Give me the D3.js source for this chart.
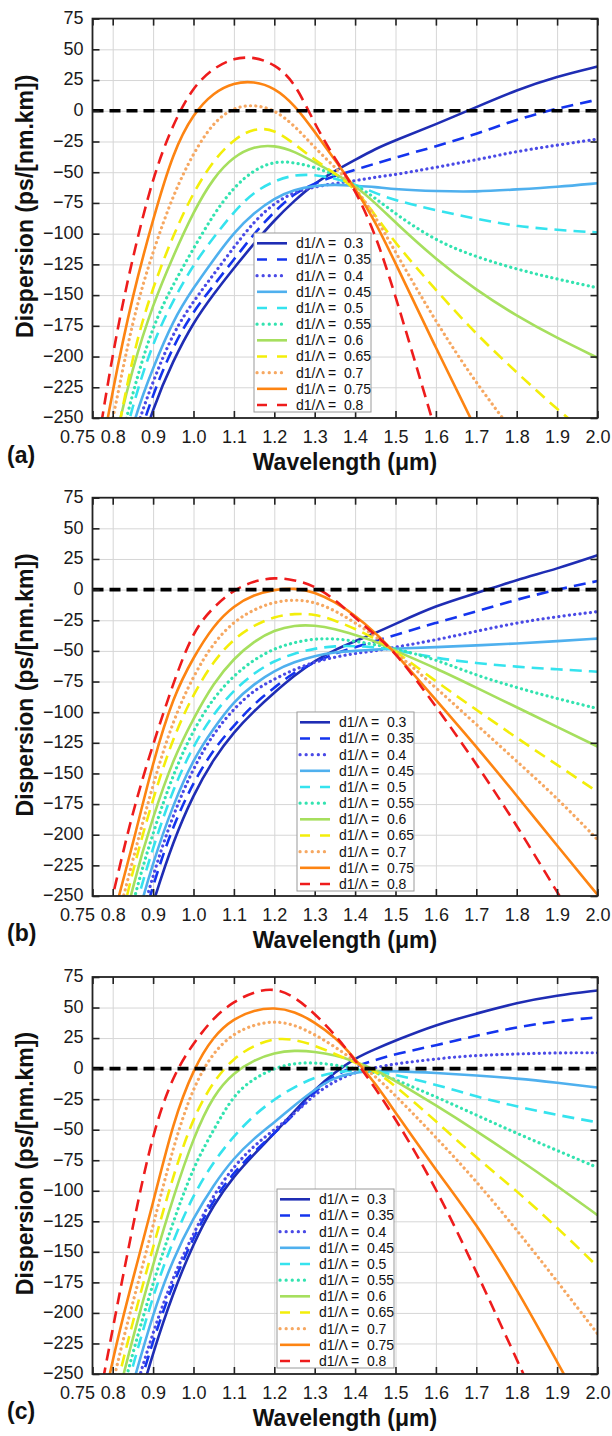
<!DOCTYPE html>
<html>
<head>
<meta charset="utf-8">
<script src="https://cdn.jsdelivr.net/npm/d3@7"></script>
<style>
  body { margin: 0; background: #fff; }
  svg text { font-family: "Liberation Sans", Arial, Helvetica, sans-serif; }
</style>
</head>
<body>
<svg id="chart"></svg>
<script>
const wavelength = [0.75, 0.8, 0.85, 0.9, 0.95, 1.0, 1.05, 1.1, 1.15, 1.2, 1.25, 1.3, 1.35, 1.4, 1.45, 1.5, 1.6, 1.7, 1.8, 1.9, 2.0];
const ratios = ["0.3", "0.35", "0.4", "0.45", "0.5", "0.55", "0.6", "0.65", "0.7", "0.75", "0.8"];
const colors = ["#1f2db4", "#1434ee", "#4a4ae6", "#4fb0ee", "#35e3ee", "#33e3b0", "#a6df5e", "#f3ee0a", "#f6a862", "#fd8412", "#ee1c1c"];
const lineKinds = ["solid", "dashed", "dotted", "solid", "dashed", "dotted", "solid", "dashed", "dotted", "solid", "dashed"];
const xTicks = [0.75, 0.8, 0.9, 1.0, 1.1, 1.2, 1.3, 1.4, 1.5, 1.6, 1.7, 1.8, 1.9, 2.0];
const yTicks = [75, 50, 25, 0, -25, -50, -75, -100, -125, -150, -175, -200, -225, -250];
const panelTags = ["(a)", "(b)", "(c)"];

// dispersion (ps/[nm.km]) at each wavelength, one row per d1/Λ
const dispA = [
  [-480, -370, -295, -241, -203, -172, -149, -128, -108, -89, -73, -59, -49, -40, -31, -24, -11, 3, 17, 28, 36],
  [-460, -355, -280, -230, -191, -163, -142, -121, -100, -82, -67, -59, -53, -48, -43, -38, -29, -19, -7, 2, 9],
  [-440, -340, -265, -220, -180, -155, -133, -111, -90, -75, -66, -62, -59, -57, -54, -52, -46, -40, -33, -28, -23],
  [-420, -325, -252, -209, -170, -144, -121, -99, -83, -71, -64, -61, -60, -61, -62, -64, -65.5, -66, -64, -62, -59],
  [-400, -305, -238, -188, -154, -125, -103, -82, -66, -57, -52, -52, -55, -60, -67, -73, -81, -88, -94, -97, -99],
  [-390, -295, -228, -174, -141, -112, -84, -62, -48, -41, -42, -46, -52, -60, -71, -84, -106, -119, -129, -137, -144],
  [-370, -274, -208, -157, -118, -82, -54, -37, -29, -28, -33, -42, -51, -61, -75, -91, -121, -146, -167, -185, -201],
  [-360, -285, -196, -143, -101, -66, -40, -23, -14, -15, -27, -40, -51, -63, -85, -108, -146, -182, -213, -243, -270],
  [-330, -252, -168, -114, -68, -34, -9, 3, 5, 1, -12, -30, -46, -62, -86, -115, -172, -222, -265, -310, -355],
  [-320, -226, -149, -88, -33, -2, 15, 23, 24, 19, 5, -17, -40, -63, -90, -124, -193, -260, -325, -390, -455],
  [-300, -195, -118, -53, -10, 20, 35, 43, 44, 38, 24, -11, -39, -64, -100, -150, -262, -370, -480, -590, -700]
];
const dispB = [
  [-460, -385, -310, -255, -205, -167, -138, -116, -99, -84, -70, -58, -49, -42, -35.5, -28, -13, -3, 8, 17, 28],
  [-450, -375, -300, -240, -192, -157, -130, -111, -93, -80, -67, -59.5, -52, -47, -42, -37, -27, -18, -8, 0, 7],
  [-440, -365, -292, -232, -183, -145, -117, -97, -82, -73, -65, -59, -55, -52, -50, -47, -41, -34, -27, -22, -18],
  [-420, -350, -280, -222, -175, -138, -113, -91, -77, -66, -59, -54, -51, -50, -49, -48, -47, -45.5, -44, -42, -40],
  [-410, -340, -265, -210, -162, -127, -101, -82, -68, -58, -52, -48, -46, -46, -47, -49, -56, -60, -63, -65, -67],
  [-400, -330, -253, -198, -150, -114, -88, -70, -57, -48, -43, -40, -40, -42, -45, -48, -57, -70, -80, -89, -97],
  [-390, -315, -240, -185, -138, -105, -76, -56, -42, -33, -29, -29, -32, -37, -42, -50, -64, -80, -96, -112, -128],
  [-370, -300, -228, -170, -120, -85, -58, -40, -29, -22, -19.5, -20, -25, -32, -40, -50, -75, -98, -121, -143, -165],
  [-350, -285, -220, -158, -106, -70, -43, -26, -16, -10, -8, -10, -17, -27, -38, -51, -80, -110, -140, -170, -204],
  [-340, -268, -208, -140, -87, -55, -29, -13, -4, 0, 1.4, -2, -10, -21, -35, -52, -90, -128, -168, -209, -249],
  [-320, -250, -180, -126, -76, -33, -14, 0, 7, 10, 8, 3, -8, -23, -37, -51, -95, -142, -192, -247, -300]
];
const dispC = [
  [-420, -345, -290, -232, -183, -143, -111, -88, -70, -53, -35, -17, -3, 8.5, 16, 23, 36, 45, 54, 60, 64],
  [-410, -335, -278, -222, -175, -138, -107, -85, -68, -53, -37, -19, -5, 2, 7, 12, 19, 27, 34, 39, 42],
  [-400, -325, -270, -215, -170, -135, -103, -80, -63, -50, -37, -21, -10, -3, 1, 4, 8, 11, 12, 13, 13],
  [-390, -318, -258, -200, -155, -122, -95, -73, -57, -44, -30, -17, -7, -3, -2, -2, -3.5, -5.5, -8, -11.5, -15.5],
  [-380, -305, -243, -185, -140, -103, -76, -55, -38, -25, -15, -7, -3, -1, -2, -5, -13, -23, -31, -38, -44],
  [-370, -295, -232, -175, -125, -80, -50, -21, -8, 0.5, 4.5, 5, 3, 0, -3, -9, -23, -38, -53, -67, -81],
  [-360, -285, -220, -160, -105, -56, -21, -3, 7, 13, 15, 14, 11, 6, -1, -10, -30, -51, -73, -96, -120],
  [-350, -272, -207, -146, -87, -39, -10, 9, 19, 25, 24, 19, 12, 5, -2, -14, -43, -73, -100, -130, -162],
  [-340, -255, -191, -129, -63, -14, 14, 29, 36, 39, 36, 28, 18, 6, -6, -22, -56, -92, -132, -174, -217],
  [-320, -236, -172, -110, -43, 0, 27, 41, 48, 50, 47, 38, 26, 8, -12, -36, -83, -127, -180, -240, -300],
  [-300, -213, -128, -51, -5, 21, 42, 55, 63, 66, 59, 45, 28, 7, -16, -41, -97, -166, -238, -310, -380]
];

const size = { width: 612, height: 1436 };
const margin = { left: 92.5, right: 14.5 };
const frames = [
  { data: dispA, top: 18.6, bottom: 418, legend: { x: 254, y: 233 } },
  { data: dispB, top: 497.7, bottom: 896, legend: { x: 297, y: 712 } },
  { data: dispC, top: 977, bottom: 1374, legend: { x: 277, y: 1189 } }
];

const svg = d3
  .select("#chart")
  .attr("width", size.width)
  .attr("height", size.height);

const x = d3
  .scaleLinear()
  .domain([0.75, 2.0])
  .range([margin.left, size.width - margin.right]);

const lineStyle = (sel, kind, inLegend) => {
  sel.attr("stroke-width", 2.6).attr("fill", "none");
  if (kind === "dashed") {
    sel.attr("stroke-dasharray", inLegend ? "10,10" : "12,7");
  } else if (kind === "dotted") {
    sel
      .attr("stroke-dasharray", inLegend ? "0.1,6" : "0.1,5.2")
      .attr("stroke-linecap", "round")
      .attr("stroke-width", 3.2);
  }
};

frames.forEach((f, p) => {
  const y = d3.scaleLinear().domain([-250, 75]).range([f.bottom, f.top]);
  const g = svg.append("g");
  const h = f.bottom - f.top;
  const w = size.width - margin.right - margin.left;

  // grid
  g.append("g")
    .attr("transform", `translate(0, ${f.bottom})`)
    .call(d3.axisBottom(x).tickValues(xTicks.slice(1)).tickSize(-h).tickFormat(""))
    .call((s) => s.select(".domain").remove())
    .call((s) => s.selectAll("line").attr("stroke", "#d6d6d6").attr("stroke-width", 1));
  g.append("g")
    .attr("transform", `translate(${margin.left}, 0)`)
    .call(d3.axisLeft(y).tickValues(yTicks.slice(1, -1)).tickSize(-w).tickFormat(""))
    .call((s) => s.select(".domain").remove())
    .call((s) => s.selectAll("line").attr("stroke", "#d6d6d6").attr("stroke-width", 1));

  // curves
  const clipId = `clip${p}`;
  svg
    .append("clipPath")
    .attr("id", clipId)
    .append("rect")
    .attr("x", margin.left)
    .attr("y", f.top)
    .attr("width", w)
    .attr("height", h);

  const line = d3
    .line()
    .x((d, i) => x(wavelength[i]))
    .y((d) => y(d))
    .curve(d3.curveBasis);

  const curves = g.append("g").attr("clip-path", `url(#${clipId})`);
  f.data.forEach((row, k) => {
    curves
      .append("path")
      .datum(row)
      .attr("d", line)
      .attr("stroke", colors[k])
      .call(lineStyle, lineKinds[k], false);
  });

  // zero line
  curves
    .append("line")
    .attr("x1", x(0.75))
    .attr("x2", x(2.0))
    .attr("y1", y(0))
    .attr("y2", y(0))
    .attr("stroke", "black")
    .attr("stroke-width", 3.6)
    .attr("stroke-dasharray", "11,6");

  // inward ticks on all four sides
  const tickStyle = (s) => {
    s.select(".domain").remove();
    s.selectAll("line").attr("stroke", "#222").attr("stroke-width", 1.6);
  };
  g.append("g")
    .attr("transform", `translate(0, ${f.bottom})`)
    .call(d3.axisBottom(x).tickValues(xTicks).tickSize(-7).tickFormat(""))
    .call(tickStyle);
  g.append("g")
    .attr("transform", `translate(0, ${f.top})`)
    .call(d3.axisTop(x).tickValues(xTicks).tickSize(-7).tickFormat(""))
    .call(tickStyle);
  g.append("g")
    .attr("transform", `translate(${margin.left}, 0)`)
    .call(d3.axisLeft(y).tickValues(yTicks).tickSize(-7).tickFormat(""))
    .call(tickStyle);
  g.append("g")
    .attr("transform", `translate(${size.width - margin.right}, 0)`)
    .call(d3.axisRight(y).tickValues(yTicks).tickSize(-7).tickFormat(""))
    .call(tickStyle);

  g.append("rect")
    .attr("x", margin.left)
    .attr("y", f.top)
    .attr("width", w)
    .attr("height", h)
    .attr("fill", "none")
    .attr("stroke", "#222")
    .attr("stroke-width", 1.8);

  // tick labels
  const xLab = g
    .append("g")
    .attr("transform", `translate(0, ${f.bottom})`)
    .call(
      d3.axisBottom(x).tickValues(xTicks).tickSize(0).tickPadding(12.5)
        .tickFormat((d) => (d === 0.75 ? "0.75" : d3.format(".1f")(d)))
    );
  xLab.select(".domain").remove();
  xLab.selectAll("text").attr("font-size", 18).attr("fill", "#1a1a1a");
  xLab
    .selectAll("text")
    .filter((d) => d === 0.75)
    .attr("text-anchor", "end")
    .attr("x", 2);

  const yLab = g
    .append("g")
    .attr("transform", `translate(${margin.left}, 0)`)
    .call(d3.axisLeft(y).tickValues(yTicks).tickSize(0).tickPadding(9));
  yLab.select(".domain").remove();
  yLab.selectAll("text").attr("font-size", 18).attr("fill", "#1a1a1a").attr("dy", "0.27em");

  // titles
  g.append("text")
    .text("Dispersion (ps/[nm.km])")
    .attr("transform", `translate(33, ${(f.top + f.bottom) / 2 - 12}) rotate(-90)`)
    .attr("text-anchor", "middle")
    .attr("font-size", 23)
    .attr("font-weight", "bold")
    .attr("fill", "#111");
  g.append("text")
    .text("Wavelength (μm)")
    .attr("x", (margin.left + size.width - margin.right) / 2)
    .attr("y", f.bottom + 52)
    .attr("text-anchor", "middle")
    .attr("font-size", 23)
    .attr("font-weight", "bold")
    .attr("fill", "#111");
  g.append("text")
    .text(panelTags[p])
    .attr("x", 7)
    .attr("y", f.bottom + 45)
    .attr("font-size", 23)
    .attr("font-weight", "bold")
    .attr("fill", "#111");

  // legend
  const lg = g.append("g").attr("transform", `translate(${f.legend.x}, ${f.legend.y})`);
  lg.append("rect")
    .attr("width", 117)
    .attr("height", 179)
    .attr("fill", "white")
    .attr("stroke", "#9a9a9a")
    .attr("stroke-width", 1);
  ratios.forEach((r, k) => {
    const cy = 10.3 + k * 16.17;
    lg.append("line")
      .attr("x1", 3)
      .attr("x2", 33)
      .attr("y1", cy)
      .attr("y2", cy)
      .attr("stroke", colors[k])
      .call(lineStyle, lineKinds[k], true);
    lg.append("text")
      .attr("x", 42)
      .attr("y", cy)
      .attr("dy", "0.35em")
      .attr("font-size", 14)
      .attr("fill", "#111")
      .attr("xml:space", "preserve")
      .style("white-space", "pre")
      .text(`d1/Λ =  ${r}`);
  });
});
</script>
</body>
</html>
